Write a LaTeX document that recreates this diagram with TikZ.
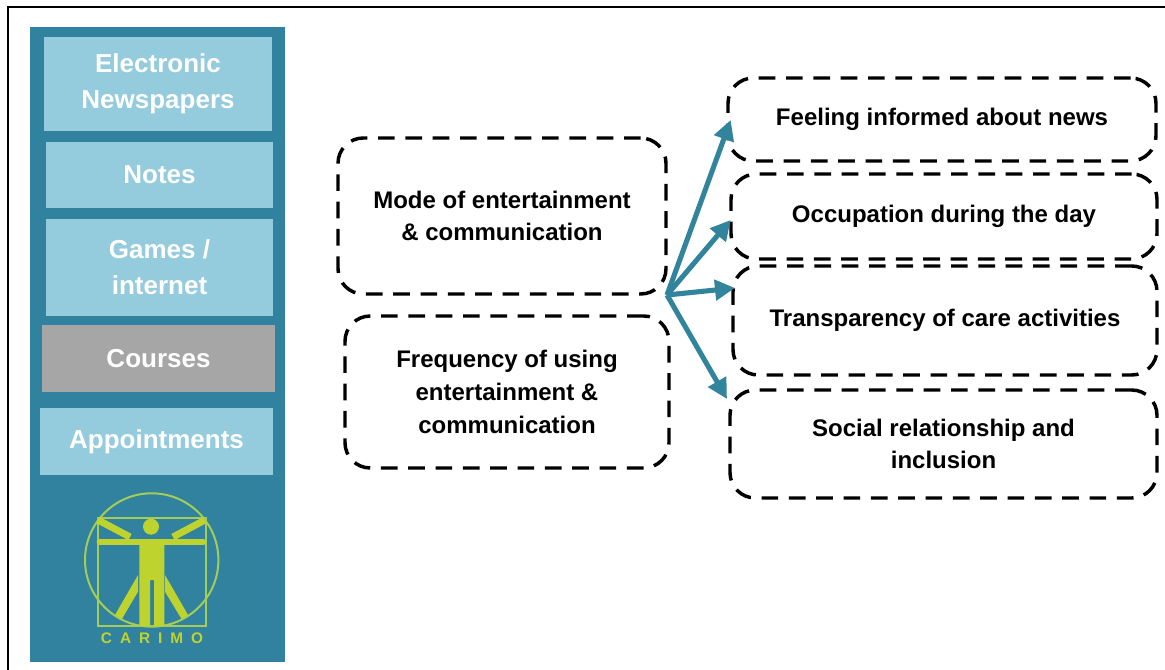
\documentclass[tikz,border=0pt]{standalone}
\usepackage{fontspec}
\setmainfont{Liberation Sans}
\usetikzlibrary{arrows.meta}
\definecolor{panel}{HTML}{31829E}
\definecolor{lightbox}{HTML}{94CBDD}
\definecolor{greybox}{HTML}{A6A6A6}
\definecolor{logoY}{HTML}{BFD32F}
\definecolor{logoL}{HTML}{A3CC58}
\definecolor{arrowc}{HTML}{31849B}
\tikzset{
  x=0.75pt,y=-0.75pt,
  menubox/.style={fill=lightbox,text=white,inner sep=0pt,align=center,font=\fontsize{19.5pt}{27pt}\selectfont\bfseries},
  dashbox/.style={draw=black,line width=2.6pt,dash pattern=on 12.5pt off 8pt,rounded corners=19pt,inner sep=0pt,align=center,font=\fontsize{18pt}{24.5pt}\selectfont\bfseries},
  flow/.style={draw=arrowc,line width=3.8pt,-{Triangle[length=15pt,width=15pt]},shorten >=0pt},
  logoline/.style={draw=logoL,line width=1.5pt},
  logolimb/.style={draw=logoY,line width=5.2pt}
}
\newcommand{\boxat}[6]{\node[#1,minimum width=#4*0.75pt-#2*0.75pt,minimum height=#5*0.75pt-#3*0.75pt] (#6) at ({(#2+#4)/2},{(#3+#5)/2})}
\begin{document}
\begin{tikzpicture}
\useasboundingbox (0,0) rectangle (1165,670);
\fill[white] (0,0) rectangle (1165,670);
\draw[black,line width=2pt] (8,670) -- (8,7) -- (1165,7);
\fill[panel] (30,27) rectangle (285,662);
\boxat{menubox}{44}{37}{272}{131}{news} {Electronic\\Newspapers};
\boxat{menubox}{46}{142}{273}{208}{notes} {Notes};
\boxat{menubox}{46}{219}{273}{316}{games} {Games /\\internet};
\boxat{menubox,fill=greybox}{42}{325}{275}{392}{courses} {Courses};
\boxat{menubox}{40}{408}{273}{475}{appts} {Appointments};
% logo
\draw[logoline] (151.7,560) circle (66.7);
\draw[logoline] (97.7,518) rectangle (205.7,626);
\fill[logoY] (151,526.7) circle (8);
\draw[logolimb,line cap=round] (100,542) -- (203,542);
\draw[logolimb] (98,520) -- (130,537);
\draw[logolimb] (205,520) -- (173,537);
\fill[logoY] (139.3,541) -- (164.3,541) -- (164.3,626) -- (154,626) -- (154,580) -- (150,580) -- (150,626) -- (139.3,626) -- cycle;
\fill[logoY] (138,575) -- (115,615) -- (121.7,619.3) -- (138,591.7) -- cycle;
\fill[logoY] (165,575) -- (188,615) -- (181.7,619.3) -- (165,591.7) -- cycle;
\node[inner sep=0pt,text=logoY] (logotext) at (152,638) {\fontsize{11.5pt}{12pt}\selectfont\bfseries\addfontfeature{LetterSpace=52}CARIMO};
% dashed boxes
\boxat{dashbox}{338}{138}{666}{294}{mode} {Mode of entertainment\\\& communication};
\boxat{dashbox}{345}{316}{669}{468}{freq} {Frequency of using\\entertainment \&\\communication};
\boxat{dashbox}{728}{78}{1156}{161}{feel} {Feeling informed about news};
\boxat{dashbox}{731}{174}{1157}{259}{occ} {Occupation during the day};
\boxat{dashbox}{733}{266}{1157}{375}{trans} {Transparency of care activities};
\boxat{dashbox}{730}{390}{1157}{498}{soc} {Social relationship and\\inclusion};
% connectors
\coordinate (hub) at (667,295);
\coordinate (t1) at (730.7,120);
\coordinate (t2) at (730.7,220);
\coordinate (t3) at (735,288);
\coordinate (t4) at (727,399);
\draw[flow] (hub) -- (t1);
\draw[flow] (hub) -- (t2);
\draw[flow] (hub) -- (t3);
\draw[flow] (hub) -- (t4);
\end{tikzpicture}
\end{document}
